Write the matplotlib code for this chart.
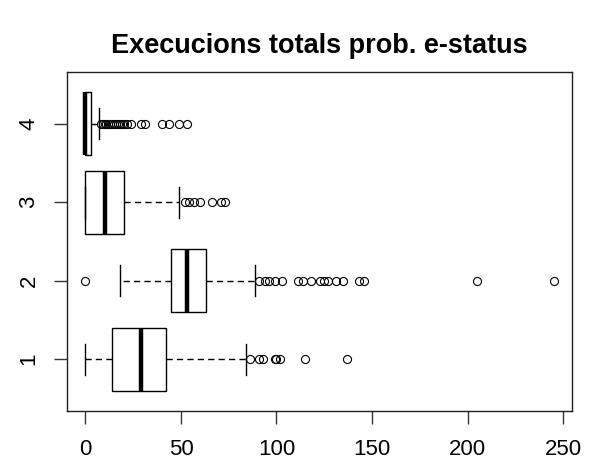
import matplotlib
matplotlib.use("Agg")
import matplotlib.pyplot as plt

plt.rcParams['font.family'] = ['Liberation Sans', 'DejaVu Sans']

# five-number summaries (R style boxplot, horizontal)
groups = ["1", "2", "3", "4"]
whislo = [0, 18, 0, 0]
q1 = [14, 45, 0, 0]
med = [29, 53, 10, 0]
q3 = [42, 63, 20, 3]
whishi = [84, 89, 49, 7]
fliers = [
    [86, 91, 93, 99, 100, 102, 115, 137],
    [0, 91, 94, 96, 99, 103, 111, 114, 118, 123, 125, 127, 131, 135, 143, 146, 205, 245],
    [52, 54, 57, 60, 66, 71, 73],
    [8, 9, 10, 11, 12, 13, 14, 15, 16, 17, 18, 19, 20, 22, 24, 29, 31, 40, 44, 49, 53],
]
xticks = [0, 50, 100, 150, 200, 250]

stats = []
for i in range(len(groups)):
    stats.append(dict(label=groups[i], whislo=whislo[i], q1=q1[i], med=med[i],
                      q3=q3[i], whishi=whishi[i], fliers=fliers[i]))

fig = plt.figure(figsize=(5.97, 4.65), dpi=100)
ax = fig.add_axes([0.1117, 0.1161, 0.8469, 0.7291])

ax.bxp(stats, positions=[1, 2, 3, 4], widths=0.8, capwidths=0.4,
       orientation='horizontal', patch_artist=True, showfliers=True,
       boxprops=dict(facecolor='white', edgecolor='black', linewidth=1),
       medianprops=dict(color='black', linewidth=3.2, solid_capstyle='butt'),
       whiskerprops=dict(color='black', linewidth=1, linestyle=(0, (4.5, 3))),
       capprops=dict(color='black', linewidth=1),
       flierprops=dict(marker='o', markersize=5.8, markerfacecolor='none',
                       markeredgecolor='black', markeredgewidth=0.8))

ax.set_xlim(-9.8, 254.8)
ax.set_ylim(0.34, 4.66)
ax.set_xticks(xticks)
ax.set_xticklabels([str(t) for t in xticks])
ax.set_yticks([1, 2, 3, 4])
ax.set_yticklabels(groups, rotation=90, va='center')
ax.tick_params(axis='both', direction='out', length=9.5, width=1,
               labelsize=16, color='#333333')
ax.tick_params(axis='x', pad=11)
ax.tick_params(axis='y', pad=10)
for s in ax.spines.values():
    s.set_linewidth(1)
    s.set_color('#222222')

fig.text(0.5343, 1 - 46 / 465, "Execucions totals prob. e-status",
         ha='center', va='center', fontsize=19.5, fontweight='bold')

fig.savefig("out.png", dpi=100)
